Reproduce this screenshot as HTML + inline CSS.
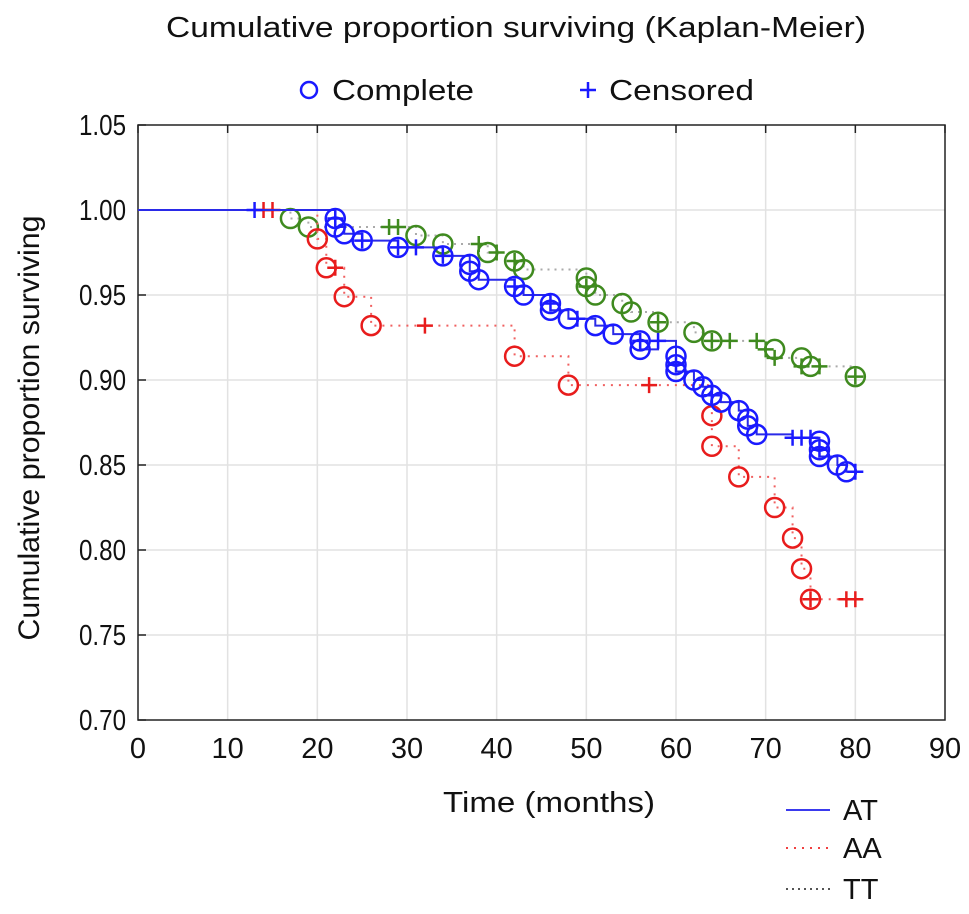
<!DOCTYPE html>
<html><head><meta charset="utf-8"><style>
html,body{margin:0;padding:0;background:#fff;}
svg{display:block;font-family:"Liberation Sans",Arial,sans-serif;}
</style></head><body>
<svg id="chart" width="969" height="914" viewBox="0 0 969 914">
<text x="516" y="37" font-size="29" text-anchor="middle" textLength="700" lengthAdjust="spacingAndGlyphs" fill="#111">Cumulative proportion surviving (Kaplan-Meier)</text>
<g>
<circle cx="309" cy="90" r="8" fill="none" stroke="#1a1aff" stroke-width="2.5"/>
<text x="332" y="100" font-size="29" textLength="142" lengthAdjust="spacingAndGlyphs" fill="#111">Complete</text>
<path d="M580 90h16M588 82v16" stroke="#1a1aff" stroke-width="2.5"/>
<text x="609" y="100" font-size="29" textLength="145" lengthAdjust="spacingAndGlyphs" fill="#111">Censored</text>
</g>
<g id="grid"></g>
<rect x="138" y="125" width="807" height="595" fill="none" stroke="#222" stroke-width="1.5"/>
<g id="axes"></g>
<g id="series"></g>
<text transform="translate(39,428) rotate(-90)" font-size="30" text-anchor="middle" textLength="425" lengthAdjust="spacingAndGlyphs" fill="#111">Cumulative proportion surviving</text>
<text x="549" y="812" font-size="29" text-anchor="middle" textLength="212" lengthAdjust="spacingAndGlyphs" fill="#111">Time (months)</text>
<g>
<line x1="786" y1="810" x2="830" y2="810" stroke="#3a3aee" stroke-width="2"/>
<text x="843" y="820" font-size="29" fill="#111">AT</text>
<line x1="786" y1="848" x2="830" y2="848" stroke="#f04040" stroke-width="2" stroke-dasharray="2,6"/>
<text x="843" y="858" font-size="29" fill="#111">AA</text>
<line x1="786" y1="889" x2="830" y2="889" stroke="#555" stroke-width="2" stroke-dasharray="2,4"/>
<text x="843" y="899" font-size="29" fill="#111">TT</text>
</g>
</svg>
<script>
const xTicks=[0,10,20,30,40,50,60,70,80,90];
const yTicks=[0.70,0.75,0.80,0.85,0.90,0.95,1.00,1.05];
const yTickLabels=["0.70","0.75","0.80","0.85","0.90","0.95","1.00","1.05"];
const atCompleteT=[22,22,23,25,29,34,37,37,38,42,43,46,46,48,51,53,56,56,60,60,60,62,63,64,65,67,68,68,69,76,76,76,78,79];
const atCompleteS=[0.995,0.990,0.986,0.982,0.978,0.973,0.968,0.964,0.959,0.955,0.950,0.945,0.941,0.936,0.932,0.927,0.923,0.918,0.914,0.909,0.905,0.900,0.896,0.891,0.887,0.882,0.877,0.873,0.868,0.864,0.859,0.855,0.850,0.846];
const atCensT=[13,22,25,29,31,34,42,46,49,56,58,60,64,73,74,75,76,80];
const atCensS=[1,0.995,0.982,0.978,0.978,0.973,0.955,0.945,0.936,0.923,0.923,0.909,0.891,0.866,0.866,0.866,0.859,0.846];
const aaCompleteT=[20,21,23,26,42,48,64,64,67,71,73,74,75];
const aaCompleteS=[0.983,0.966,0.949,0.932,0.914,0.897,0.879,0.861,0.843,0.825,0.807,0.789,0.771];
const aaCensT=[14,15,22,32,57,75,79,80];
const aaCensS=[1,1,0.966,0.932,0.897,0.771,0.771,0.771];
const ttCompleteT=[17,19,31,34,39,42,43,50,50,51,54,55,58,62,64,71,74,75,80];
const ttCompleteS=[0.995,0.990,0.985,0.980,0.975,0.970,0.965,0.960,0.955,0.950,0.945,0.940,0.934,0.928,0.923,0.918,0.913,0.908,0.902];
const ttCensT=[28,29,38,40,42,50,58,64,66,69,70,71,74,76,80];
const ttCensS=[0.990,0.990,0.980,0.975,0.970,0.955,0.934,0.923,0.923,0.923,0.918,0.913,0.908,0.908,0.902];

const NS="http://www.w3.org/2000/svg";
const X=t=>138+t*(807/90);
const Y=s=>720-(s-0.70)*(595/0.35);
function mk(tag,attrs,parent){const e=document.createElementNS(NS,tag);for(const k in attrs)e.setAttribute(k,attrs[k]);parent.appendChild(e);return e;}
const grid=document.getElementById('grid'),axes=document.getElementById('axes'),series=document.getElementById('series');
xTicks.forEach((t,i)=>{
  if(i>0&&i<xTicks.length-1){const g=mk('line',{x1:X(t),x2:X(t),y1:125,y2:720,stroke:'#e2e2e2','stroke-width':1.5},grid);
  
  }
  const tk=mk('line',{x1:X(t),x2:X(t),y1:125,y2:133,stroke:'#222','stroke-width':1.5},axes);
  
  
  const tx=mk('text',{x:X(t),y:758,'font-size':29,'text-anchor':'middle',fill:'#111'},axes);tx.textContent=String(t);
  
  
});
yTicks.forEach((s,i)=>{
  if(i>0&&i<yTicks.length-1){const g=mk('line',{x1:138,x2:945,y1:Y(s),y2:Y(s),stroke:'#e2e2e2','stroke-width':1.5},grid);
  
  }
  const tk=mk('line',{x1:138,x2:146,y1:Y(s),y2:Y(s),stroke:'#222','stroke-width':1.5},axes);
  
  
  const tx=mk('text',{x:126,y:Y(s)+10,'font-size':29,'text-anchor':'end',textLength:47,lengthAdjust:'spacingAndGlyphs',fill:'#111'},axes);tx.textContent=yTickLabels[i];
  
  
});
function drawSeries(name,cT,cS,zT,zS,lineColor,dash,markColor){
  const ev=[];cT.forEach((t,i)=>ev.push([t,cS[i]]));zT.forEach((t,i)=>ev.push([t,zS[i]]));
  ev.sort((a,b)=>a[0]-b[0]||b[1]-a[1]);
  let d='M'+X(0)+' '+Y(1);let cur=1;
  ev.forEach(([t,s])=>{d+=' H'+X(t);if(s!==cur){d+=' V'+Y(s);cur=s;}});
  const p=mk('path',{d:d,fill:'none',stroke:lineColor,'stroke-width':2,'stroke-dasharray':dash},series);
  
  
  cT.forEach((t,i)=>{const c=mk('circle',{cx:X(t),cy:Y(cS[i]),r:9.5,fill:'none',stroke:markColor,'stroke-width':2.5},series);
    
    });
  zT.forEach((t,i)=>{const x=X(t),y=Y(zS[i]);const c=mk('path',{d:`M${x-8} ${y}h16M${x} ${y-8}v16`,stroke:markColor,'stroke-width':2.5},series);
    
    });
}
drawSeries('tt',ttCompleteT,ttCompleteS,ttCensT,ttCensS,'#aaa','2,5','#3f8a1f');
drawSeries('aa',aaCompleteT,aaCompleteS,aaCensT,aaCensS,'#f06060','2,6','#e81c1c');
drawSeries('at',atCompleteT,atCompleteS,atCensT,atCensS,'#2a2ae8','','#1a1aff');
</script>
</body></html>
